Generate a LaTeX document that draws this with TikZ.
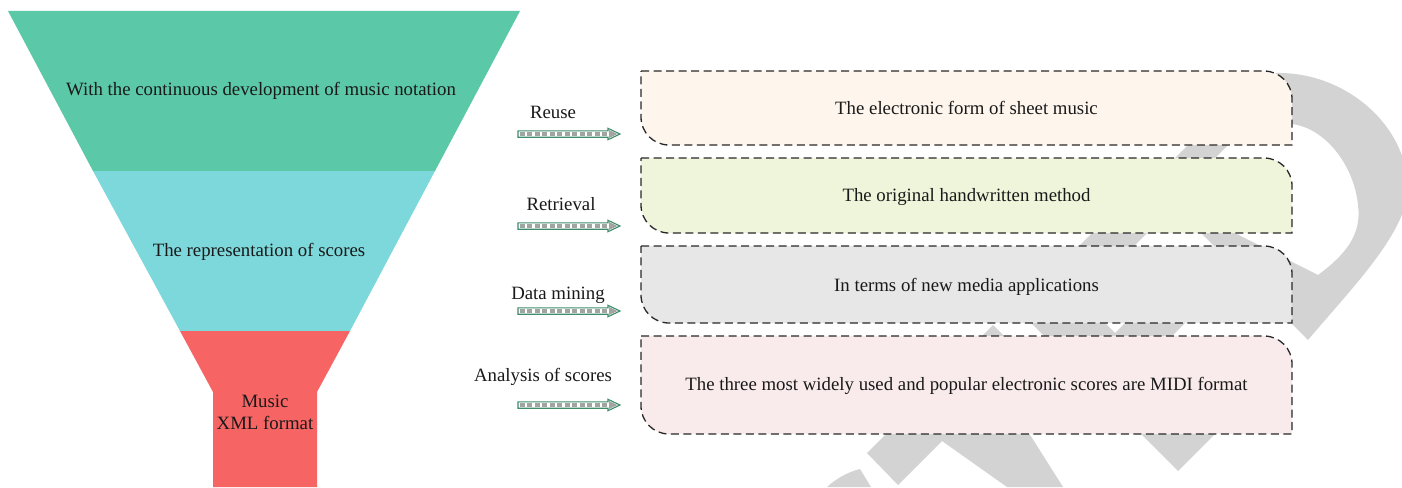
\documentclass[tikz,border=0pt]{standalone}
\usepackage{fontspec}
\setmainfont{Liberation Serif}
\definecolor{wmgray}{RGB}{211,211,211}
\definecolor{fgreen}{RGB}{91,200,168}
\definecolor{fcyan}{RGB}{125,216,219}
\definecolor{fred}{RGB}{246,100,100}
\definecolor{txt}{RGB}{25,25,25}
\definecolor{boxdraw}{RGB}{40,40,40}
\definecolor{bxorange}{RGB}{254,245,237}
\definecolor{bxgreen}{RGB}{239,245,219}
\definecolor{bxgray}{RGB}{231,231,231}
\definecolor{bxpink}{RGB}{249,235,235}
\definecolor{arrgreen}{RGB}{62,140,108}
\definecolor{arrgray}{RGB}{160,165,162}
\newcommand{\mybox}[5]{%
  \path[boxline, fill=#5] (#1,#2) -- ({#3-28},#2) .. controls ({#3-12.5},#2) and (#3,{#2+12.5}) .. (#3,{#2+28})
    -- (#3,#4) -- ({#1+28},#4) .. controls ({#1+12.5},#4) and (#1,{#4-12.5}) .. (#1,{#4-28}) -- cycle;}
\newcommand{\myarrow}[2]{%
  \coordinate (#2s) at (518,#1);
  \coordinate (#2e) at (620,#1);
  \fill[white] (#2s) ++(0,-3.2) -- ++(90,0) -- ++(0,-2.5) -- ++(12,5.7) -- ++(-12,5.7) -- ++(0,-2.5) -- ++(-90,0) -- cycle;
  \draw[arrdash] (#2s) ++(1.5,0) -- ++(88,0);
  \fill[arrgray] (#2e) ++(-11,-4) -- ++(8.5,4) -- ++(-8.5,4) -- cycle;
  \draw[arrline] (#2s) ++(0,-3.2) -- ++(90,0) -- ++(0,-2.5) -- ++(12,5.7) -- ++(-12,5.7) -- ++(0,-2.5) -- ++(-90,0) -- cycle;}
\begin{document}
\begin{tikzpicture}[x=1pt,y=-1pt,
  wm/.style={fill=wmgray},
  ftext/.style={font=\fontsize{18.8}{22}\selectfont, text=txt, inner sep=0pt, align=center},
  boxline/.style={draw=boxdraw, line width=1.3pt, dash pattern=on 8pt off 4.5pt},
  arrline/.style={draw=arrgreen, line width=1.1pt, line join=miter},
  arrdash/.style={draw=arrgray, line width=4pt, dash pattern=on 5pt off 2.5pt}]
\useasboundingbox (0,0) rectangle (1402,487);
\clip (0,0) rectangle (1402,487);
% watermark
\fill[wm] (1240,73) -- (1277,73) .. controls (1345,72) and (1408,125) .. (1408,190)
  .. controls (1405,235) and (1350,290) .. (1308,340) -- (1190,222) -- (1213,222) -- (1318,275)
  .. controls (1345,255) and (1362,235) .. (1358,205) .. controls (1354,165) and (1325,128) .. (1292,124)
  -- (1240,120) -- cycle;
\fill[wm] (1193,140) -- (1233,140) -- (1203,170) -- (1163,170) -- cycle;
\fill[wm] (1093,232) -- (1148,232) -- (1122,258) -- (1067,258) -- cycle;
\fill[wm] (993,325) -- (1010,342) -- (976,342) -- cycle;
\fill[wm] (1028,320) -- (1050,342) -- (1166,342) -- (1188,320) -- (1128,320) -- (1115,333) -- (1102,320) -- cycle;
\fill[wm] (867,453) -- (898,485) -- (942,441) -- (1007,487) -- (1063,487) -- (1027,430) -- (890,430) -- cycle;
\fill[wm] (827,487) .. controls (837,478) and (848,472) .. (860,469) -- (871,487) -- cycle;
\fill[wm] (1137,430) -- (1178,471) -- (1219,430) -- cycle;
% funnel
\fill[fgreen] (8,11) -- (520,11) -- (435,171) -- (93,171) -- cycle;
\fill[fcyan] (93,171) -- (435,171) -- (350,331) -- (180,331) -- cycle;
\fill[fred] (180,331) -- (350,331) -- (317,392) -- (317,487) -- (213,487) -- (213,392) -- cycle;
\node[ftext] (f1) at (261,91) {With the continuous development of music notation};
\node[ftext] (f2) at (259,252) {The representation of scores};
\node[ftext] (f3) at (265,412) {Music\\XML format};
% labels and arrows
\node[ftext] (l1) at (553,112) {Reuse};
\node[ftext] (l2) at (561,204) {Retrieval};
\node[ftext] (l3) at (558,295) {Data mining};
\node[ftext] (l4) at (543,377) {Analysis of scores};
\myarrow{134}{a1}
\myarrow{226}{a2}
\myarrow{311}{a3}
\myarrow{405}{a4}
% boxes
\mybox{641}{71}{1292}{145}{bxorange}
\mybox{641}{158}{1292}{233}{bxgreen}
\mybox{641}{246}{1292}{323}{bxgray}
\mybox{641}{336}{1292}{434}{bxpink}
\node[ftext] (b1) at (966.5,108) {The electronic form of sheet music};
\node[ftext] (b2) at (966.5,197) {The original handwritten method};
\node[ftext] (b3) at (966.5,287) {In terms of new media applications};
\node[ftext] (b4) at (966.5,386) {The three most widely used and popular electronic scores are MIDI format};
\end{tikzpicture}
\end{document}
